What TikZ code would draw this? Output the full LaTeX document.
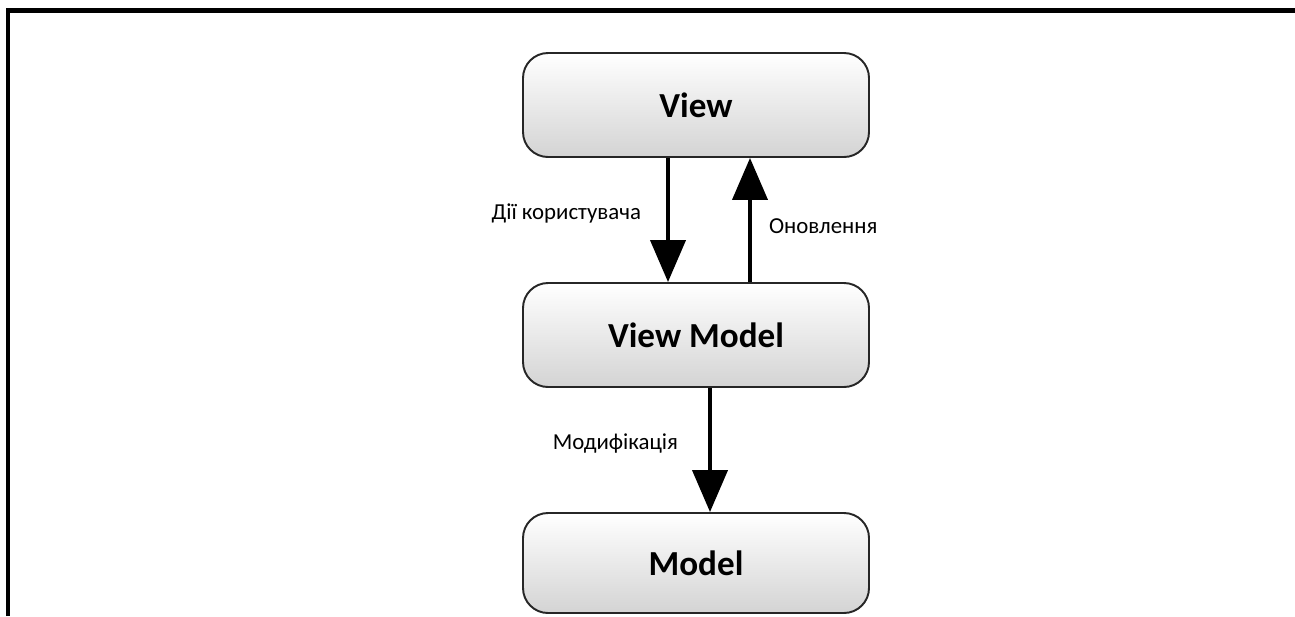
\documentclass[tikz,border=0pt]{standalone}
\usepackage{fontspec}
\setmainfont{Carlito}
\usepackage{tikz}
\usetikzlibrary{arrows.meta}
\usetikzlibrary{shadings}
\tikzstyle{layer}=[draw=black!85, line width=1.1pt, rounded corners=0.5cm, top color=white, bottom color=black!17, minimum width=6.92cm, minimum height=2.08cm, font=\fontsize{20}{24}\selectfont\bfseries]
\tikzstyle{flow}=[line width=2.3pt, -{Triangle[length=0.84cm,width=0.7cm]}]
\tikzstyle{lbl}=[inner sep=0pt, font=\fontsize{13}{15}\selectfont]

\begin{document}
\begin{tikzpicture}
\useasboundingbox (0,0) rectangle (25.9,-12.32);
\draw[line width=2.6pt] (0.16,-12.32) -- (0.16,-0.21) -- (25.9,-0.21);
\node[layer] (view) at (13.92,-2.10) {View};
\node[layer] (vm) at (13.92,-6.70) {View Model};
\node[layer, minimum height=2.0cm] (model) at (13.92,-11.26) {Model};
\draw[flow] ([xshift=-0.56cm]view.south) -- node[lbl, pos=0.45, left=0.5cm] {Дії користувача} ([xshift=-0.56cm]vm.north);
\draw[flow] ([xshift=1.08cm]vm.north) -- node[lbl, pos=0.45, right=0.34cm] {Оновлення} ([xshift=1.08cm]view.south);
\draw[flow] ([xshift=0.28cm]vm.south) -- node[lbl, pos=0.45, left=0.6cm] {Модифікація} ([xshift=0.28cm]model.north);
\end{tikzpicture}
\end{document}
